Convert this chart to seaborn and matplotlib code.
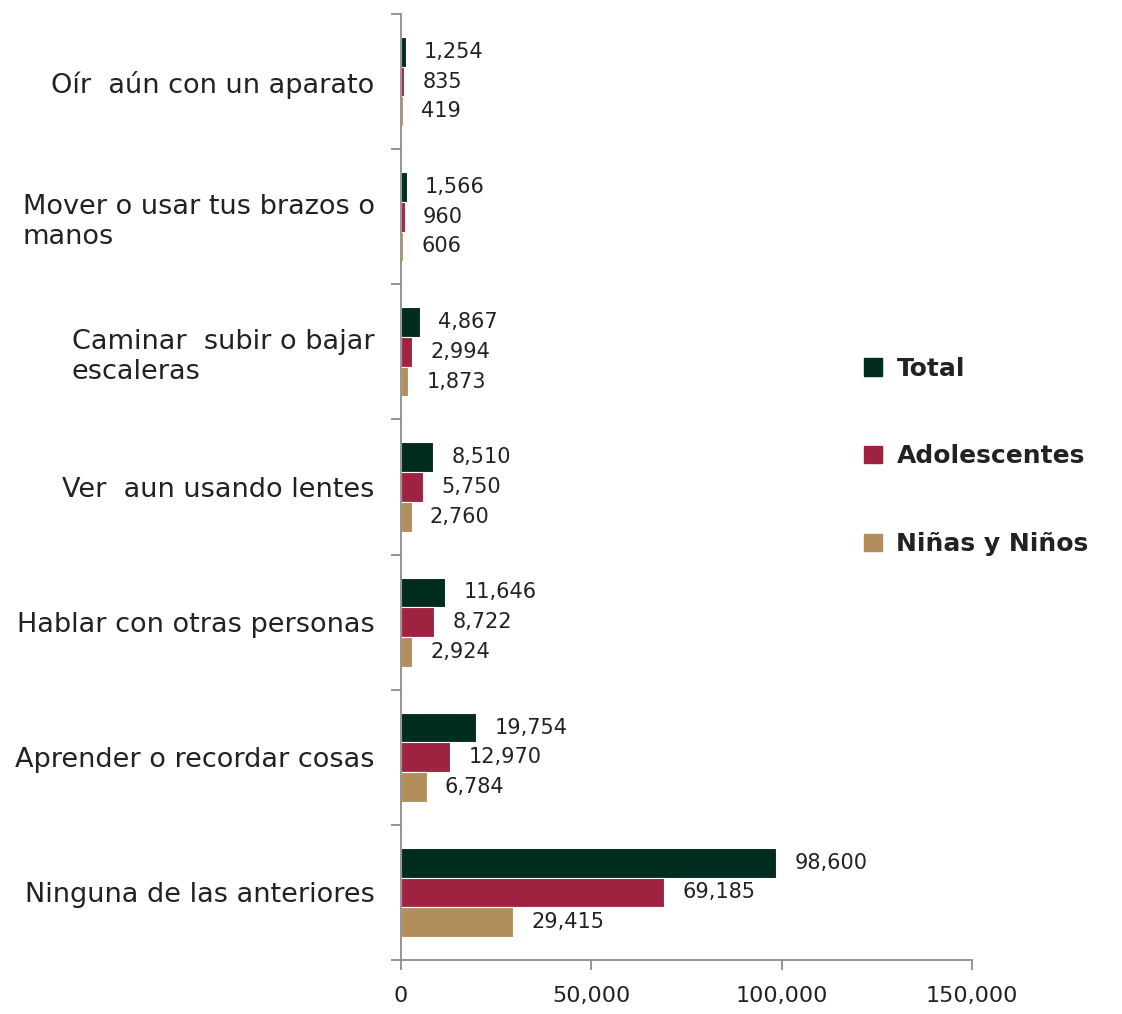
import matplotlib
matplotlib.use('Agg')
import matplotlib.pyplot as plt
import pandas as pd
import seaborn as sns
from matplotlib.patches import Patch
from matplotlib.ticker import FuncFormatter

categories = [
    'Oír  aún con un aparato',
    'Mover o usar tus brazos o\nmanos',
    'Caminar  subir o bajar\nescaleras',
    'Ver  aun usando lentes',
    'Hablar con otras personas',
    'Aprender o recordar cosas',
    'Ninguna de las anteriores',
]
total = [1254, 1566, 4867, 8510, 11646, 19754, 98600]
adolescentes = [835, 960, 2994, 5750, 8722, 12970, 69185]
ninos = [419, 606, 1873, 2760, 2924, 6784, 29415]

series = ['Total', 'Adolescentes', 'Niñas y Niños']
colors = ['#002b1f', '#9f2241', '#b38e5d']
text_color = '#222222'
axis_color = '#8c8c8c'

df = pd.DataFrame({
    'categoria': categories * 3,
    'serie': [s for s in series for _ in categories],
    'valor': total + adolescentes + ninos,
})

sns.set_style('ticks')
plt.rcParams['font.family'] = ['DejaVu Sans']

fig = plt.figure(figsize=(11.22, 10.14), dpi=100)
ax = fig.add_axes([0.3574, 0.0533, 0.5089, 0.9329])

sns.barplot(data=df, y='categoria', x='valor', hue='serie', orient='h',
            palette=colors, saturation=1, width=0.66, order=categories,
            hue_order=series, legend=False, linewidth=0.8, edgecolor='white',
            ax=ax)

# value labels next to each bar
for cont in ax.containers:
    ax.bar_label(cont, labels=[f'{v:,.0f}' for v in cont.datavalues],
                 padding=13, fontsize=15, color=text_color)

ax.set_xlim(0, 150000)
ax.set_ylim(6.5, -0.5)
ax.set_xticks([0, 50000, 100000, 150000])
ax.xaxis.set_major_formatter(FuncFormatter(lambda v, p: f'{v:,.0f}'))
ax.set_xlabel('')
ax.set_ylabel('')

# category labels without tick marks, boundary ticks as minor
ax.set_yticks(range(len(categories)))
ax.set_yticklabels(categories, fontsize=19.5, color=text_color,
                   multialignment='left')
ax.set_yticks([i - 0.5 for i in range(len(categories) + 1)], minor=True)
ax.tick_params(axis='y', which='major', left=False, length=0, pad=19)
ax.tick_params(axis='y', which='minor', left=True, length=7, width=1.3,
               color=axis_color)
ax.tick_params(axis='x', bottom=True, length=7, width=1.3, color=axis_color,
               labelsize=16, labelcolor=text_color, pad=12)

sns.despine(ax=ax, top=True, right=True)
for side in ['left', 'bottom']:
    ax.spines[side].set_color(axis_color)
    ax.spines[side].set_linewidth(1.3)

handles = [Patch(facecolor=c, edgecolor=c) for c in colors]
leg = fig.legend(handles, series, loc='center left',
                 bbox_to_anchor=(0.75, 0.55), frameon=False,
                 prop={'weight': 'bold', 'size': 18},
                 handlelength=0.7, handleheight=0.7, handletextpad=0.6,
                 labelspacing=2.55)
for t in leg.get_texts():
    t.set_color(text_color)

fig.savefig('out.png', dpi=100)
